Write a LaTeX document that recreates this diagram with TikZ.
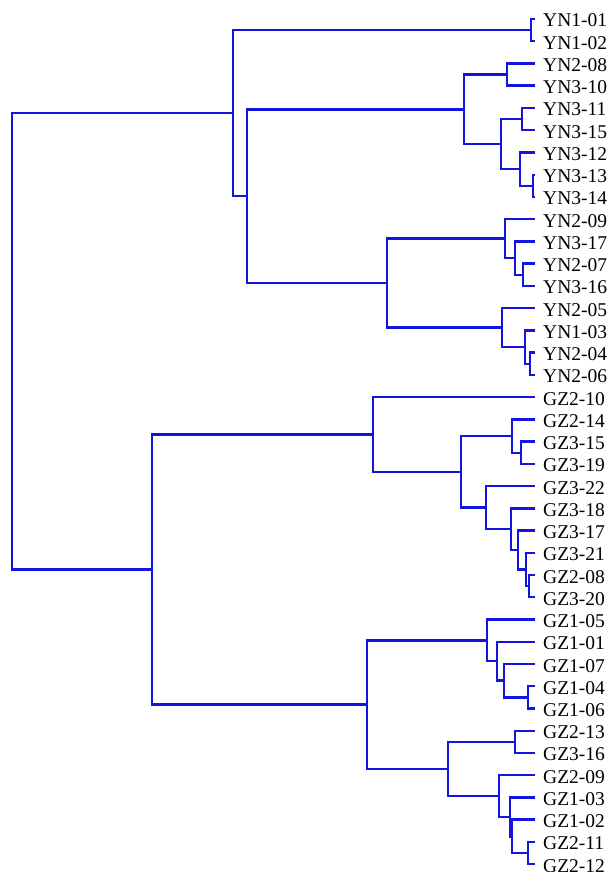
\documentclass[tikz,border=0pt]{standalone}
\usepackage{fontspec}
\setmainfont{Liberation Serif}
\usepackage{tikz}
\definecolor{treeblue}{RGB}{20,20,225}

\begin{document}
\begin{tikzpicture}[
  x=1pt,y=-1pt,
  branch/.style={draw=treeblue,line width=2.4pt},
  leaf/.style={anchor=west,inner xsep=8pt,inner ysep=0pt,text height=16pt,text depth=0pt,font=\fontsize{19.5}{21}\selectfont}
]
\useasboundingbox (0,0) rectangle (613,872);

% YN leaves
\node[leaf] (yn101) at (535,19.0) {YN1-01};
\node[leaf] (yn102) at (535,41.2) {YN1-02};
\node[leaf] (yn208) at (535,63.5) {YN2-08};
\node[leaf] (yn310) at (535,85.7) {YN3-10};
\node[leaf] (yn311) at (535,108.0) {YN3-11};
\node[leaf] (yn315) at (535,130.2) {YN3-15};
\node[leaf] (yn312) at (535,152.4) {YN3-12};
\node[leaf] (yn313) at (535,174.7) {YN3-13};
\node[leaf] (yn314) at (535,196.9) {YN3-14};
\node[leaf] (yn209) at (535,219.2) {YN2-09};
\node[leaf] (yn317) at (535,241.4) {YN3-17};
\node[leaf] (yn207) at (535,263.6) {YN2-07};
\node[leaf] (yn316) at (535,285.9) {YN3-16};
\node[leaf] (yn205) at (535,308.1) {YN2-05};
\node[leaf] (yn103) at (535,330.4) {YN1-03};
\node[leaf] (yn204) at (535,352.6) {YN2-04};
\node[leaf] (yn206) at (535,374.8) {YN2-06};

% GZ leaves
\node[leaf] (gz210) at (535,397.1) {GZ2-10};
\node[leaf] (gz214) at (535,419.3) {GZ2-14};
\node[leaf] (gz315) at (535,441.6) {GZ3-15};
\node[leaf] (gz319) at (535,463.8) {GZ3-19};
\node[leaf] (gz322) at (535,486.0) {GZ3-22};
\node[leaf] (gz318) at (535,508.3) {GZ3-18};
\node[leaf] (gz317) at (535,530.5) {GZ3-17};
\node[leaf] (gz321) at (535,552.8) {GZ3-21};
\node[leaf] (gz208) at (535,575.0) {GZ2-08};
\node[leaf] (gz320) at (535,597.2) {GZ3-20};
\node[leaf] (gz105) at (535,619.5) {GZ1-05};
\node[leaf] (gz101) at (535,641.7) {GZ1-01};
\node[leaf] (gz107) at (535,664.0) {GZ1-07};
\node[leaf] (gz104) at (535,686.2) {GZ1-04};
\node[leaf] (gz106) at (535,708.4) {GZ1-06};
\node[leaf] (gz213) at (535,730.7) {GZ2-13};
\node[leaf] (gz316) at (535,752.9) {GZ3-16};
\node[leaf] (gz209) at (535,775.2) {GZ2-09};
\node[leaf] (gz103) at (535,797.4) {GZ1-03};
\node[leaf] (gz102) at (535,819.6) {GZ1-02};
\node[leaf] (gz211) at (535,841.9) {GZ2-11};
\node[leaf] (gz212) at (535,864.1) {GZ2-12};

% YN joins
\coordinate (yn1) at (531,30.1);
\coordinate (ynA) at (507,74.6);
\coordinate (ynB) at (522,119.1);
\coordinate (ynC) at (533,185.8);
\coordinate (ynD) at (520,169.1);
\coordinate (ynE) at (501,144.1);
\coordinate (ynF) at (464,109.4);
\coordinate (ynG) at (523,274.8);
\coordinate (ynH) at (515,258.1);
\coordinate (ynI) at (505,238.6);
\coordinate (ynJ) at (530,363.7);
\coordinate (ynK) at (525,347.0);
\coordinate (ynL) at (502,327.6);
\coordinate (ynM) at (387,283.1);
\coordinate (ynN) at (247,196.2);
\coordinate (ynO) at (233,113.2);

% GZ joins
\coordinate (gzA) at (521,452.7);
\coordinate (gzB) at (512,436.0);
\coordinate (gzC) at (529,586.1);
\coordinate (gzD) at (526,569.5);
\coordinate (gzE) at (518,550.0);
\coordinate (gzF) at (511,529.1);
\coordinate (gzG) at (486,507.6);
\coordinate (gzH) at (461,471.8);
\coordinate (gzI) at (373,434.5);
\coordinate (gzJ) at (528,697.3);
\coordinate (gzK) at (504,680.6);
\coordinate (gzL) at (497,661.2);
\coordinate (gzM) at (487,640.3);
\coordinate (gzN) at (515,741.8);
\coordinate (gzO) at (528,853.0);
\coordinate (gzP) at (512,836.3);
\coordinate (gzQ) at (510,816.9);
\coordinate (gzR) at (499,796.0);
\coordinate (gzS) at (448,768.9);
\coordinate (gzT) at (367,704.6);
\coordinate (gzU) at (152,569.6);
\coordinate (root) at (12,341.4);

% YN branches
\draw[branch] (yn1) |- (yn101.west) (yn1) |- (yn102.west);
\draw[branch] (ynA) |- (yn208.west) (ynA) |- (yn310.west);
\draw[branch] (ynB) |- (yn311.west) (ynB) |- (yn315.west);
\draw[branch] (ynC) |- (yn313.west) (ynC) |- (yn314.west);
\draw[branch] (ynD) |- (yn312.west) (ynD) |- (ynC);
\draw[branch] (ynE) |- (ynB) (ynE) |- (ynD);
\draw[branch] (ynF) |- (ynA) (ynF) |- (ynE);
\draw[branch] (ynG) |- (yn207.west) (ynG) |- (yn316.west);
\draw[branch] (ynH) |- (yn317.west) (ynH) |- (ynG);
\draw[branch] (ynI) |- (yn209.west) (ynI) |- (ynH);
\draw[branch] (ynJ) |- (yn204.west) (ynJ) |- (yn206.west);
\draw[branch] (ynK) |- (yn103.west) (ynK) |- (ynJ);
\draw[branch] (ynL) |- (yn205.west) (ynL) |- (ynK);
\draw[branch] (ynM) |- (ynI) (ynM) |- (ynL);
\draw[branch] (ynN) |- (ynF) (ynN) |- (ynM);
\draw[branch] (ynO) |- (yn1) (ynO) |- (ynN);

% GZ branches
\draw[branch] (gzA) |- (gz315.west) (gzA) |- (gz319.west);
\draw[branch] (gzB) |- (gz214.west) (gzB) |- (gzA);
\draw[branch] (gzC) |- (gz208.west) (gzC) |- (gz320.west);
\draw[branch] (gzD) |- (gz321.west) (gzD) |- (gzC);
\draw[branch] (gzE) |- (gz317.west) (gzE) |- (gzD);
\draw[branch] (gzF) |- (gz318.west) (gzF) |- (gzE);
\draw[branch] (gzG) |- (gz322.west) (gzG) |- (gzF);
\draw[branch] (gzH) |- (gzB) (gzH) |- (gzG);
\draw[branch] (gzI) |- (gz210.west) (gzI) |- (gzH);
\draw[branch] (gzJ) |- (gz104.west) (gzJ) |- (gz106.west);
\draw[branch] (gzK) |- (gz107.west) (gzK) |- (gzJ);
\draw[branch] (gzL) |- (gz101.west) (gzL) |- (gzK);
\draw[branch] (gzM) |- (gz105.west) (gzM) |- (gzL);
\draw[branch] (gzN) |- (gz213.west) (gzN) |- (gz316.west);
\draw[branch] (gzO) |- (gz211.west) (gzO) |- (gz212.west);
\draw[branch] (gzP) |- (gz102.west) (gzP) |- (gzO);
\draw[branch] (gzQ) |- (gz103.west) (gzQ) |- (gzP);
\draw[branch] (gzR) |- (gz209.west) (gzR) |- (gzQ);
\draw[branch] (gzS) |- (gzN) (gzS) |- (gzR);
\draw[branch] (gzT) |- (gzM) (gzT) |- (gzS);
\draw[branch] (gzU) |- (gzI) (gzU) |- (gzT);

% root
\draw[branch] (root) |- (ynO) (root) |- (gzU);
\end{tikzpicture}
\end{document}
